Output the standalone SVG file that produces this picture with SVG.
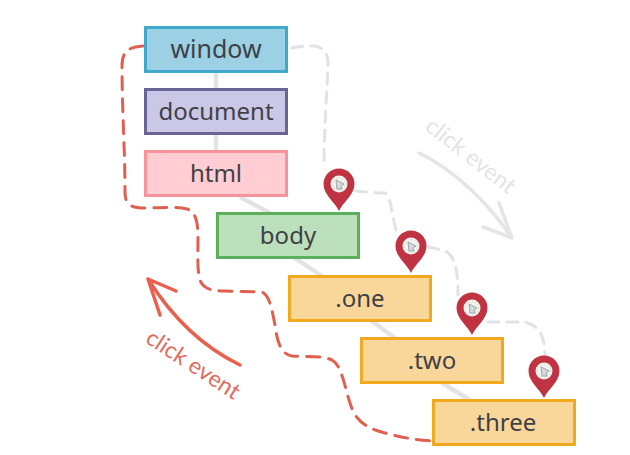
<svg xmlns="http://www.w3.org/2000/svg" width="630" height="455" viewBox="0 0 630 455">
<style>
.box{stroke-width:3}
.lbl{font-family:"Noto Sans","Open Sans",sans-serif;font-size:24px;fill:#3f3f46;text-anchor:middle}
.trunk{fill:none;stroke:#e3e3e6;stroke-width:4.500}
.cap{fill:none;stroke:#e0e3e6;stroke-width:3;stroke-dasharray:11 8;stroke-linecap:round}
.bub{fill:none;stroke:#e0604f;stroke-width:3;stroke-dasharray:13 9;stroke-linecap:round}
.arr-r{fill:none;stroke:#e8604e;stroke-width:3.500;stroke-linecap:round;stroke-linejoin:round}
.arr-g{fill:none;stroke:#e5e5e5;stroke-width:3.500;stroke-linecap:round;stroke-linejoin:round}
.cl{font-family:"Lato","Noto Sans",sans-serif;font-size:23px;text-anchor:middle}
</style>
<defs>
<g id="pin">
<path d="M0 0C-4 -9 -15.500 -16 -15.500 -27A15.500 15.500 0 0 1 15.500 -27C15.500 -16 4 -9 0 0Z" fill="#c03343"/>
<circle cx="0" cy="-27" r="8.500" fill="#f3f3ee"/>
<circle cx="0" cy="-27" r="6.500" fill="none" stroke="#c8cfc8" stroke-width="1" stroke-dasharray="1 2"/>
<path d="M-3 -31L5 -27L2 -25L3 -22L-2 -22Z" fill="#d5dadd" stroke="#8f989e" stroke-width="0.800"/>
</g>
</defs>
<g id="connectors">
<path class="trunk" d="M216 72V151"/>
<path class="trunk" d="M240 197L270 213M295 258L322 276M372 321L395 338M442 383L470 400"/>
<path class="cap" d="M292 48C300 46 308 46 315 46C323 47 328 54 328 62C327 95 324 130 324 165"/>
<path class="cap" d="M356 191C365 192 375 193 385 193C392 198 391 215 397 233"/>
<path class="cap" d="M428 247C435 248 441 250 447 252C456 258 458 275 458 295"/>
<path class="cap" d="M488 322L525 322C538 325 545 335 545 356"/>
<path class="bub" d="M143 46C130 47 122 50 122 66C122 110 125 150 125 192C125 204 130 208 145 208C160 208 175 206 187 209C197 212 198 225 198 240C198 255 197 270 200 280C203 289 212 291 225 291L262 292C270 296 272 310 275 325C277 340 280 354 292 356C305 357 320 355 332 360C342 366 344 385 350 403C355 420 365 428 385 433C400 437 415 440 432 441"/>
<path class="arr-r" d="M240 365C205 348 175 322 148 279M148 279L176 291M148 279L160 315"/>
<path class="arr-g" d="M419 153C455 170 490 205 512 238M512 238L499 203M512 238L483 227"/>
</g>
<g id="window"><rect class="box" x="145.500" y="27.500" width="141" height="44" fill="#9bd0e5" stroke="#3fa9cb"/><text class="lbl" x="216" y="58" style="font-size:25px">window</text></g>
<g id="document"><rect class="box" x="145.500" y="89.500" width="141" height="44" fill="#cbc7e6" stroke="#6b6496"/><text class="lbl" x="216" y="120">document</text></g>
<g id="html"><rect class="box" x="145.500" y="151.500" width="141" height="44" fill="#ffcdd2" stroke="#f9939b"/><text class="lbl" x="216" y="182">html</text></g>
<g id="body"><rect class="box" x="217.500" y="213.500" width="141" height="44" fill="#bcdfbc" stroke="#5cb05c"/><text class="lbl" x="288" y="244">body</text></g>
<g id="one"><rect class="box" x="289.500" y="276.500" width="141" height="44" fill="#f9d79b" stroke="#f3a91e"/><text class="lbl" x="360" y="307">.one</text></g>
<g id="two"><rect class="box" x="361.500" y="338.500" width="141" height="44" fill="#f9d79b" stroke="#f3a91e"/><text class="lbl" x="432" y="369">.two</text></g>
<g id="three"><rect class="box" x="433.500" y="400.500" width="141" height="44" fill="#f9d79b" stroke="#f3a91e"/><text class="lbl" x="503" y="431">.three</text></g>
<g id="pin1"><use href="#pin" x="339" y="211"/></g>
<g id="pin2"><use href="#pin" x="411" y="273"/></g>
<g id="pin3"><use href="#pin" x="472" y="335"/></g>
<g id="pin4"><use href="#pin" x="544" y="398"/></g>
<g id="label-bubble"><text class="cl" fill="#e26a5c" transform="translate(189 371) rotate(33)">click event</text></g>
<g id="label-capture"><text class="cl" fill="#e4e4e4" transform="translate(466 162) rotate(38)">click event</text></g>
</svg>
